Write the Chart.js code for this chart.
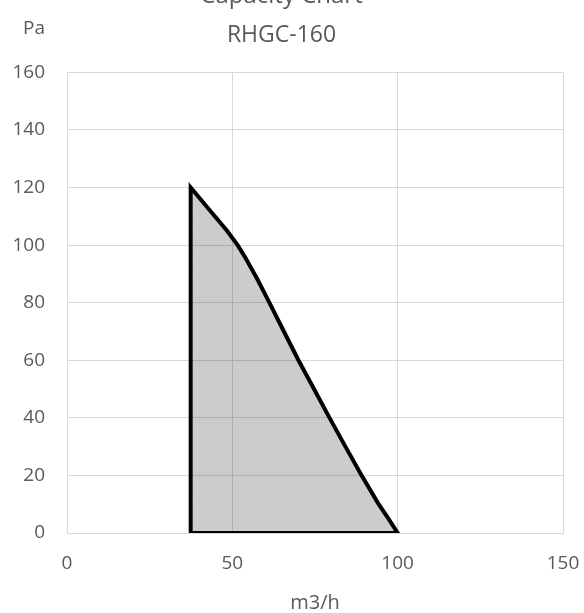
<!DOCTYPE html>
<html>
<head>
<meta charset="utf-8">
<title>Capacity Chart</title>
<script src="https://cdn.jsdelivr.net/npm/chart.js@4/dist/chart.umd.min.js"></script>
<style>
    html, body { margin: 0; padding: 0; background: #ffffff; overflow: hidden; }
    /* canvas starts above the window so the main title is cut like the original */
    .chart-wrapper { position: absolute; left: 0; top: -20px; width: 584px; height: 633px; }
</style>
</head>
<body>
<div class="chart-wrapper">
    <canvas id="capacityChart" width="584" height="633"></canvas>
</div>
<script>
// Working area outline, RHGC-160 (m3/h vs Pa)
const flowValues = [37.4, 37.4, 44, 48.4, 51.6, 54, 57.5, 61.2, 65.6, 70, 74.7, 79.4, 84.2, 89.1, 94.1, 97.2, 100, 37.4];
const pressureValues = [0, 120, 111, 105, 100, 95.5, 88.3, 80, 70, 60, 50, 40, 30, 20, 10.3, 5, 0, 0];

const xTicks = [0, 50, 100, 150];
const yTicks = [0, 20, 40, 60, 80, 100, 120, 140, 160];

const chartTitle = 'Capacity Chart';
const chartSubtitle = 'RHGC-160';
const xAxisLabel = 'm3/h';
const yAxisLabel = 'Pa';

const textColor = '#595959';
const gridColor = '#d9d9d9';
const fontFamily = '"Open Sans", "Noto Sans", sans-serif';

const outline = flowValues.map((x, i) => ({ x: x, y: pressureValues[i] }));

// "Pa" sits horizontally above the value axis
const yUnitLabel = {
    id: 'yUnitLabel',
    afterDraw(chart) {
        const ctx = chart.ctx;
        ctx.save();
        ctx.font = '19px ' + fontFamily;
        ctx.fillStyle = textColor;
        ctx.textAlign = 'center';
        ctx.textBaseline = 'middle';
        ctx.fillText(yAxisLabel, 34, 49);
        ctx.restore();
    }
};

const ctx = document.getElementById('capacityChart').getContext('2d');
new Chart(ctx, {
    type: 'scatter',
    data: {
        datasets: [
            {
                data: outline,
                showLine: true,
                fill: 'shape',
                backgroundColor: 'rgba(0, 0, 0, 0.2)',
                borderColor: '#000000',
                borderWidth: 4,
                borderJoinStyle: 'miter',
                pointRadius: 0,
                pointHoverRadius: 0,
                tension: 0
            }
        ]
    },
    options: {
        responsive: false,
        animation: false,
        layout: { padding: { left: 0, right: 21, top: 0, bottom: 0 } },
        plugins: {
            legend: { display: false },
            tooltip: { enabled: false },
            title: {
                display: true,
                text: chartTitle,
                color: textColor,
                font: { family: fontFamily, size: 24, weight: 'normal' },
                padding: { top: 2, bottom: 11 }
            },
            subtitle: {
                display: true,
                text: chartSubtitle,
                color: textColor,
                font: { family: fontFamily, size: 23, weight: 'normal' },
                padding: { top: 0, bottom: 23 }
            }
        },
        scales: {
            x: {
                type: 'linear',
                min: xTicks[0],
                max: xTicks[xTicks.length - 1],
                afterBuildTicks: (scale) => { scale.ticks = xTicks.map(v => ({ value: v })); },
                afterFit: (scale) => {
                    scale.height = 80;
                    scale.paddingLeft = 0;
                    scale.paddingRight = 0;
                },
                grid: { color: gridColor, lineWidth: 1, drawTicks: false },
                border: { color: gridColor },
                ticks: {
                    color: textColor,
                    padding: 19,
                    maxRotation: 0,
                    font: { family: fontFamily, size: 19 }
                },
                title: {
                    display: true,
                    text: xAxisLabel,
                    color: textColor,
                    padding: { top: 0, bottom: -2 },
                    font: { family: fontFamily, size: 20 }
                }
            },
            y: {
                type: 'linear',
                min: yTicks[0],
                max: yTicks[yTicks.length - 1],
                afterBuildTicks: (scale) => { scale.ticks = yTicks.map(v => ({ value: v })); },
                afterFit: (scale) => { scale.width = 67; },
                grid: { color: gridColor, lineWidth: 1, drawTicks: false },
                border: { color: gridColor },
                ticks: {
                    color: textColor,
                    padding: 22,
                    font: { family: fontFamily, size: 19 }
                }
            }
        }
    },
    plugins: [yUnitLabel]
});
</script>
</body>
</html>
